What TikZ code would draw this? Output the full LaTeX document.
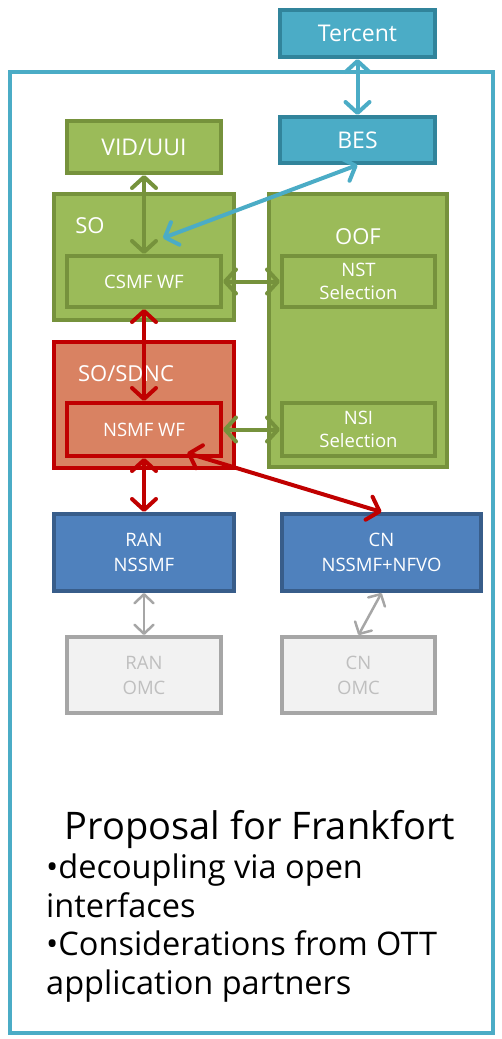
\documentclass[tikz,border=0pt]{standalone}
\usepackage{fontspec}
\setmainfont{Open Sans}
\usetikzlibrary{arrows.meta}
\definecolor{tealf}{HTML}{4BACC6}
\definecolor{teald}{HTML}{31849B}
\definecolor{greenf}{HTML}{9BBB59}
\definecolor{greend}{HTML}{76923C}
\definecolor{redf}{HTML}{D98262}
\definecolor{redd}{HTML}{C00000}
\definecolor{bluef}{HTML}{4F81BD}
\definecolor{blued}{HTML}{385D8A}
\definecolor{greyf}{HTML}{F2F2F2}
\definecolor{greyd}{HTML}{A6A6A6}
\definecolor{greyt}{HTML}{BFBFBF}
\tikzset{
  box/.style={rectangle, line width=4pt, inner sep=0pt, text=white, align=center},
  bigtext/.style={font=\fontsize{23}{27}\selectfont},
  smalltext/.style={font=\fontsize{18.5}{25}\selectfont},
  tealbox/.style={box, fill=tealf, draw=teald, bigtext},
  greenbox/.style={box, fill=greenf, draw=greend},
  redbox/.style={box, fill=redf, draw=redd},
  bluebox/.style={box, fill=bluef, draw=blued, smalltext},
  greybox/.style={box, fill=greyf, draw=greyd, text=greyt, smalltext},
  dbl/.style={{Straight Barb[length=11pt,width=24pt,line width=4pt,round]}-{Straight Barb[length=11pt,width=24pt,line width=4pt,round]}, line width=4pt},
  tealarr/.style={dbl, draw=tealf},
  greenarr/.style={dbl, draw=greend},
  redarr/.style={dbl, draw=redd},
  greyarr/.style={{Straight Barb[length=9pt,width=19pt,line width=2.5pt,round]}-{Straight Barb[length=9pt,width=19pt,line width=2.5pt,round]}, line width=2.5pt, draw=greyd},
  lbl/.style={text=white, font=\fontsize{22}{26}\selectfont},
}
\begin{document}
\begin{tikzpicture}[x=1pt,y=-1pt]
\useasboundingbox (0,0) rectangle (501,1039);
% outer frame
\draw[line width=4pt, draw=tealf] (10,72) rectangle (493,1033);
% top
\node[tealbox, minimum width=155, minimum height=47] (tercent) at (357.5,33.5) {Tercent};
\node[tealbox, minimum width=155, minimum height=46] (bes) at (357.5,140) {BES};
\node[greenbox, minimum width=154, minimum height=52, bigtext] (vid) at (144,147) {VID/UUI};
% SO
\node[greenbox, minimum width=180, minimum height=126] (so) at (144,257) {};
\node[lbl] (solbl) at (90,226) {SO};
\node[greenbox, minimum width=154, minimum height=51, smalltext] (csmf) at (144,281.5) {CSMF WF};
% OOF
\node[greenbox, minimum width=178, minimum height=273] (oof) at (358,330.5) {};
\node[lbl] (ooflbl) at (358,237) {OOF};
\node[greenbox, minimum width=153, minimum height=51, smalltext] (nst) at (358.5,281.5) {NST\\[-2pt]Selection};
\node[greenbox, minimum width=153, minimum height=53, smalltext] (nsi) at (358.5,429.5) {NSI\\[-2pt]Selection};
% SO/SDNC
\node[redbox, minimum width=180, minimum height=126] (sdnc) at (144,405) {};
\node[lbl] (sdnclbl) at (126,374) {SO/SDNC};
\node[redbox, minimum width=154, minimum height=53, smalltext] (nsmf) at (144,429.5) {NSMF WF};
% lower
\node[bluebox, minimum width=180, minimum height=77] (ran) at (144,552.5) {RAN\\NSSMF};
\node[bluebox, minimum width=199, minimum height=77] (cn) at (381.5,552.5) {CN\\NSSMF+NFVO};
\node[greybox, minimum width=154, minimum height=76] (ranomc) at (144,675) {RAN\\OMC};
\node[greybox, minimum width=153, minimum height=76] (cnomc) at (358.5,675) {CN\\OMC};
% connectors
\coordinate (besin) at (163,238);
\coordinate (nsmfout) at (187,453);
\draw[tealarr] (tercent.south) -- (bes.north);
\draw[tealarr] (bes.south) -- (besin);
\draw[greenarr] (vid.south) -- (csmf.north);
\draw[greenarr] (csmf.east) -- (nst.west);
\draw[greenarr] (nsmf.east) -- (nsi.west);
\draw[redarr] (csmf.south) -- (nsmf.north);
\draw[redarr] (nsmf.south) -- (ran.north);
\draw[redarr] (nsmfout) -- (cn.north);
\draw[greyarr] (ran.south) -- (ranomc.north);
\draw[greyarr] (cn.south) -- (cnomc.north);
% text
\node[font=\fontsize{38}{44}\selectfont] (title) at (260,830) {Proposal for Frankfort};
\node[anchor=north west, align=left, inner sep=0pt, font=\fontsize{32.5}{38.5}\selectfont] (bullets) at (46,854) {•decoupling via open\\interfaces\\•Considerations from OTT\\application partners};
\end{tikzpicture}
\end{document}
